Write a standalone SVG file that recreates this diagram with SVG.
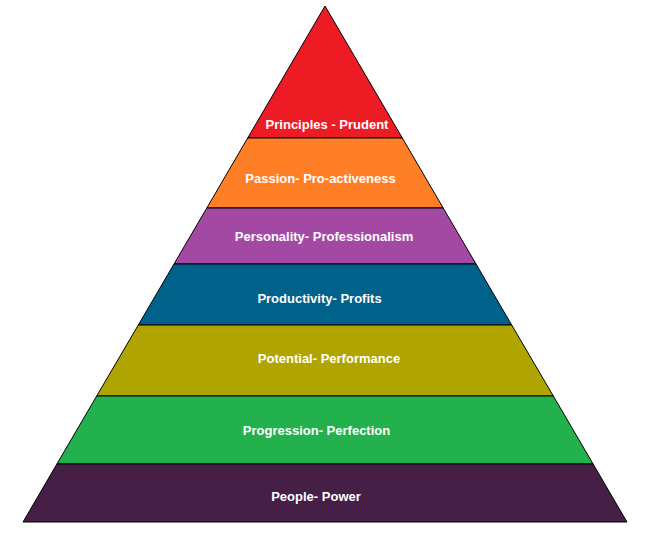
<svg xmlns="http://www.w3.org/2000/svg" width="660" height="533" viewBox="0 0 660 533">
<style>
.band{stroke:#000;stroke-width:1;stroke-linejoin:miter}
.lbl{font-family:"Liberation Sans",Arial,sans-serif;font-weight:bold;font-size:13px;fill:#fff;text-anchor:middle}
</style>
<rect width="660" height="533" fill="#fff"/>
<g id="level1"><polygon class="band" fill="#ED1C24" points="325,6 402.3,138 247.7,138"/><text class="lbl" x="327" y="128.5">Principles - Prudent</text></g>
<g id="level2"><polygon class="band" fill="#FF7F27" points="247.7,138 402.3,138 443.2,208 206.8,208"/><text class="lbl" x="320.5" y="183">Passion- Pro-activeness</text></g>
<g id="level3"><polygon class="band" fill="#A349A4" points="206.8,208 443.2,208 476,264 174,264"/><text class="lbl" x="324" y="240.5">Personality- Professionalism</text></g>
<g id="level4"><polygon class="band" fill="#00628B" points="174,264 476,264 511.7,325 138.3,325"/><text class="lbl" x="319.5" y="303">Productivity- Profits</text></g>
<g id="level5"><polygon class="band" fill="#B0A500" points="138.3,325 511.7,325 553.3,396 96.7,396"/><text class="lbl" x="329" y="363">Potential- Performance</text></g>
<g id="level6"><polygon class="band" fill="#22B14C" points="96.7,396 553.3,396 593.1,464 56.9,464"/><text class="lbl" x="316.5" y="435">Progression- Perfection</text></g>
<g id="level7"><polygon class="band" fill="#461F47" points="56.9,464 593.1,464 627,522 23,522"/><text class="lbl" x="316" y="501">People- Power</text></g>
<g id="connectors"></g>
</svg>
